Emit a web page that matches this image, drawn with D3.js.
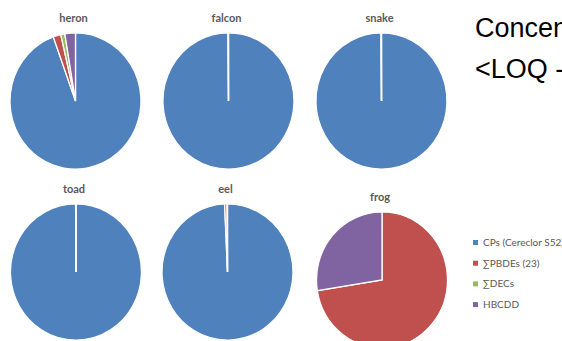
<!DOCTYPE html>
<html>
<head>
<meta charset="utf-8">
<script src="https://cdn.jsdelivr.net/npm/d3@7"></script>
<style>
  body { margin: 0; background: #fff; overflow: hidden; }
  svg { display: block; }
</style>
</head>
<body>
<div id="chart"></div>
<script>
// compound groups (legend order = slice order)
var groups = ["CPs (Cereclor S52)", "\u2211PBDEs (23)", "\u2211DECs", "HBCDD"];
var colors = ["#4f81bd", "#c0504d", "#9bbb59", "#8064a2"];

// species shown, one pie each
var species = ["heron", "falcon", "snake", "toad", "eel", "frog"];

// share of each group in %
var cpsShare    = [94.5, 99.9, 99.9, 99.9, 99.3, 0];
var pbdeShare   = [1.9, 0.05, 0.05, 0.05, 0.6, 72.5];
var decShare    = [1.0, 0.02, 0.02, 0.02, 0.05, 0];
var hbcddShare  = [2.6, 0.03, 0.03, 0.03, 0.05, 27.5];

var width = 562, height = 341;

var svg = d3.select("#chart").append("svg")
    .attr("width", width)
    .attr("height", height);

// pie placement
var cx = [75.5, 228.5, 381.5, 76, 227.5, 382];
var cy = [101, 101, 101, 272, 272, 280];
var rx = 65.5, stretch = 1.04;

var pie = d3.pie().sort(null).value(function(d) { return d.v; });
var arc = d3.arc().innerRadius(0).outerRadius(rx);

species.forEach(function(name, i) {
  var data = groups.map(function(g, k) {
    var v = [cpsShare, pbdeShare, decShare, hbcddShare][k][i];
    return {g: g, v: v, c: colors[k]};
  }).filter(function(d) { return d.v > 0; });

  var g = svg.append("g")
      .attr("transform", "translate(" + cx[i] + "," + cy[i] + ") scale(1," + stretch + ")");

  g.selectAll("path")
      .data(pie(data))
    .enter().append("path")
      .attr("d", arc)
      .style("fill", function(d) { return d.data.c; })
      .style("stroke", "#fff")
      .style("stroke-width", 1.3);

  svg.append("text")
      .attr("x", cx[i] - 2)
      .attr("y", cy[i] - rx * stretch - 11)
      .attr("text-anchor", "middle")
      .style("font-family", "Lato, 'Open Sans', sans-serif")
      .style("font-weight", "bold")
      .style("font-size", "11px")
      .style("fill", "#595959")
      .text(name);
});

// slide title, cut off at the right edge
svg.append("text")
    .attr("x", 475)
    .attr("y", 37)
    .style("font-family", "'Liberation Sans', Arial, sans-serif")
    .style("font-size", "27px")
    .style("fill", "#000")
    .text("Concentration");
svg.append("text")
    .attr("x", 475)
    .attr("y", 78)
    .style("font-family", "'Liberation Sans', Arial, sans-serif")
    .style("font-size", "27px")
    .style("fill", "#000")
    .text("<LOQ -");

// legend
var legend = svg.selectAll(".legend")
    .data(groups)
  .enter().append("g")
    .attr("class", "legend");

legend.append("rect")
    .attr("x", 473)
    .attr("y", function(d, i) { return 240 + i * 20.7; })
    .attr("width", 5)
    .attr("height", 5)
    .style("fill", function(d, i) { return colors[i]; });

legend.append("text")
    .attr("x", 483)
    .attr("y", function(d, i) { return 246 + i * 20.7; })
    .style("font-family", "Lato, 'Open Sans', sans-serif")
    .style("font-size", "10px")
    .style("fill", "#595959")
    .text(function(d) { return d; });
</script>
</body>
</html>
